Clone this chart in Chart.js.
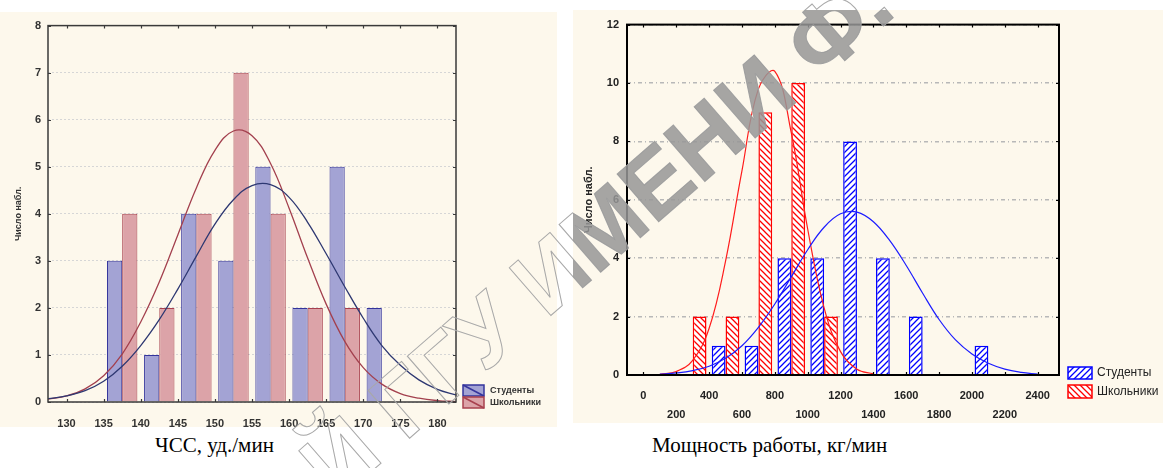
<!DOCTYPE html>
<html>
<head>
<meta charset="utf-8">
<script src="https://cdn.jsdelivr.net/npm/chart.js@4.4.1/dist/chart.umd.min.js"></script>
<style>
  body { margin: 0; width: 1163px; height: 468px; background: #fff; position: relative; overflow: hidden; font-family: "Liberation Sans", Arial, sans-serif; }
  .panel { position: absolute; background: #fdf8ec; }
  #p1 { left: 0; top: 12px; width: 557px; height: 415px; }
  #p2 { left: 573px; top: 10px; width: 590px; height: 413px; }
  .cap { position: absolute; top: 433px; font-family: "Liberation Serif", "Times New Roman", serif; font-size: 21px; color: #000; white-space: nowrap; }
  .wm { position: absolute; left: 345px; top: 421px; font: bold 92px "Liberation Sans", Arial, sans-serif; white-space: nowrap; transform: rotate(-41deg); transform-origin: 0 100%; line-height: 1; }
</style>
</head>
<body>
<div class="panel" id="p1"><canvas id="hrChart" width="557" height="415"></canvas></div>
<div class="panel" id="p2"><canvas id="powerChart" width="590" height="413"></canvas></div>
<div class="cap" style="left:155px">ЧСС, уд./мин</div>
<div class="cap" style="left:652px">Мощность работы, кг/мин</div>
<div class="wm" style="color:transparent;-webkit-text-stroke:1px #a8a8a8">Й ГГУ ИМЕНИ Ф.</div>
<div style="position:absolute;left:573px;top:10px;width:590px;height:413px;overflow:hidden">
  <div class="wm" style="left:-228px;top:411px;color:rgba(150,150,150,0.85)">Й ГГУ ИМЕНИ Ф.</div>
</div>
<script>
// ЧСС histogram (bins of 5 beats/min)
var hrBins = [137.5, 142.5, 147.5, 152.5, 157.5, 162.5, 167.5, 172.5];
var hrStudents = [3, 1, 4, 3, 5, 2, 5, 2];
var hrPupils = [4, 2, 4, 7, 4, 2, 2, 0];
var hrTicks = [130, 135, 140, 145, 150, 155, 160, 165, 170, 175, 180];
// fitted curves
var hrCurveX = [127.5, 130, 132.5, 135, 137.5, 140, 142.5, 145, 147.5, 150, 152.5, 155, 157.5, 160, 162.5, 165, 167.5, 170, 172.5, 175, 177.5, 180, 182.5];
var hrStudentsCurve = [0.07, 0.13, 0.24, 0.44, 0.76, 1.2, 1.75, 2.4, 3.1, 3.78, 4.3, 4.6, 4.62, 4.35, 3.82, 3.15, 2.45, 1.78, 1.2, 0.78, 0.47, 0.27, 0.15];
var hrPupilsCurve = [0.06, 0.13, 0.28, 0.56, 1.02, 1.7, 2.55, 3.55, 4.55, 5.35, 5.76, 5.66, 5.07, 4.12, 3.06, 2.08, 1.29, 0.73, 0.38, 0.18, 0.08, 0.03, 0.01];

// Мощность работы histogram (bins of 200 kg/min)
var powerBins = [300, 500, 700, 900, 1100, 1300, 1500, 1700, 1900, 2100];
var powerStudents = [0, 1, 1, 4, 4, 8, 4, 2, 0, 1];
var powerPupils = [2, 2, 9, 10, 2, 0, 0, 0, 0, 0];
var powerTicks = [0, 200, 400, 600, 800, 1000, 1200, 1400, 1600, 1800, 2000, 2200, 2400];
var powerStudentsX = [100, 200, 300, 400, 500, 600, 700, 800, 900, 1000, 1100, 1200, 1300, 1400, 1500, 1600, 1700, 1800, 1900, 2000, 2100, 2200, 2300, 2400];
var powerStudentsCurve = [0.03, 0.07, 0.15, 0.3, 0.57, 1.0, 1.63, 2.43, 3.36, 4.29, 5.06, 5.52, 5.58, 5.25, 4.6, 3.75, 2.8, 1.9, 1.2, 0.72, 0.4, 0.2, 0.09, 0.03];
var powerPupilsX = [100, 200, 300, 400, 500, 600, 700, 800, 900, 1000, 1100, 1200, 1300, 1400];
var powerPupilsCurve = [0.02, 0.12, 0.5, 1.6, 3.9, 7.0, 9.8, 10.4, 8.3, 5.0, 2.3, 0.8, 0.2, 0.04];

function pts(xs, ys) {
  return xs.map((x, i) => ({ x: x, y: ys[i] }));
}

function hatch(color, dir) {
  const c = document.createElement('canvas');
  c.width = 6; c.height = 6;
  const g = c.getContext('2d');
  g.fillStyle = '#fff';
  g.fillRect(0, 0, 6, 6);
  g.strokeStyle = color;
  g.lineWidth = 1.3;
  g.beginPath();
  if (dir > 0) {
    g.moveTo(0, 6); g.lineTo(6, 0);
    g.moveTo(-1, 1); g.lineTo(1, -1);
    g.moveTo(5, 7); g.lineTo(7, 5);
  } else {
    g.moveTo(0, 0); g.lineTo(6, 6);
    g.moveTo(-1, 5); g.lineTo(1, 7);
    g.moveTo(5, -1); g.lineTo(7, 1);
  }
  g.stroke();
  return g.createPattern(c, 'repeat');
}

// box around the plot, inner tick marks and the small legend in the corner
const framePlugin = {
  id: 'frame',
  afterDraw(chart, args, opts) {
    const { ctx, chartArea: a, scales: { x, y } } = chart;
    ctx.save();
    ctx.strokeStyle = opts.color;
    ctx.lineWidth = opts.width;
    ctx.strokeRect(a.left, a.top, a.right - a.left, a.bottom - a.top);
    ctx.lineWidth = 1.2;
    ctx.beginPath();
    x.ticks.forEach(t => {
      const px = Math.round(x.getPixelForValue(t.value)) + 0.5;
      ctx.moveTo(px, a.top); ctx.lineTo(px, a.top + 3);
      ctx.moveTo(px, a.bottom); ctx.lineTo(px, a.bottom - 3);
    });
    y.ticks.forEach(t => {
      const py = Math.round(y.getPixelForValue(t.value)) + 0.5;
      ctx.moveTo(a.left, py); ctx.lineTo(a.left + 3, py);
      ctx.moveTo(a.right, py); ctx.lineTo(a.right - 3, py);
    });
    ctx.stroke();

    const lg = opts.legend;
    const bars = chart.data.datasets.filter(d => d.type === 'bar');
    bars.forEach((d, i) => {
      const r = lg.rows[i];
      ctx.fillStyle = d.backgroundColor;
      ctx.fillRect(lg.x, r[0], lg.w, r[1]);
      ctx.strokeStyle = d.borderColor;
      ctx.lineWidth = 1.5;
      ctx.strokeRect(lg.x, r[0], lg.w, r[1]);
      if (lg.diag) {
        ctx.beginPath();
        ctx.moveTo(lg.x, r[0]); ctx.lineTo(lg.x + lg.w, r[0] + r[1]);
        ctx.stroke();
      }
      ctx.fillStyle = lg.textColor;
      ctx.font = lg.font;
      ctx.textBaseline = 'middle';
      ctx.textAlign = 'left';
      ctx.fillText(d.label, lg.textX, r[0] + r[1] / 2);
    });
    ctx.restore();
  }
};

Chart.defaults.font.family = '"Liberation Sans", Arial, sans-serif';

new Chart(document.getElementById('hrChart'), {
  type: 'bar',
  data: {
    datasets: [
      { type: 'line', label: 'Студенты (норм.)', data: pts(hrCurveX, hrStudentsCurve), borderColor: '#2e3872', borderWidth: 1.3, pointRadius: 0, tension: 0.4, order: 1 },
      { type: 'line', label: 'Школьники (норм.)', data: pts(hrCurveX, hrPupilsCurve), borderColor: '#a3404e', borderWidth: 1.3, pointRadius: 0, tension: 0.4, order: 1 },
      { type: 'bar', label: 'Студенты', data: pts(hrBins, hrStudents), backgroundColor: '#a3a3d4', borderColor: '#34349c', borderWidth: 1, categoryPercentage: 0.82, barPercentage: 1, order: 2 },
      { type: 'bar', label: 'Школьники', data: pts(hrBins, hrPupils), backgroundColor: '#dca3a8', borderColor: '#a8404e', borderWidth: 1, categoryPercentage: 0.82, barPercentage: 1, order: 2 }
    ]
  },
  options: {
    responsive: false,
    animation: false,
    devicePixelRatio: 1,
    layout: { padding: { top: 11, left: 0, right: 101, bottom: 0 } },
    scales: {
      x: {
        type: 'linear', min: 127.5, max: 182.5, offset: false,
        grid: { display: false, offset: false },
        border: { display: false },
        afterBuildTicks: s => { s.ticks = hrTicks.map(v => ({ value: v })); },
        afterFit: s => { s.height = 25; },
        ticks: { autoSkip: false, maxRotation: 0, padding: 7, color: '#333', font: { size: 11, weight: 'bold' } }
      },
      y: {
        min: 0, max: 8,
        grid: { color: '#d6d6d6', drawTicks: false },
        border: { display: false, dash: [2, 2] },
        afterFit: s => { s.width = 48; },
        ticks: { stepSize: 1, padding: 7, color: '#333', font: { size: 11, weight: 'bold' } },
        title: { display: true, text: 'Число набл.', color: '#333', font: { size: 9, weight: 'bold' }, padding: { top: 13, bottom: 0 } }
      }
    },
    plugins: {
      legend: { display: false },
      tooltip: { enabled: false },
      frame: {
        color: '#3a3a3a', width: 1.5,
        legend: { x: 463, w: 21, rows: [[373, 11], [385, 11]], textX: 490, font: 'bold 9px "Liberation Sans", Arial, sans-serif', textColor: '#333', diag: true }
      }
    }
  },
  plugins: [framePlugin]
});

new Chart(document.getElementById('powerChart'), {
  type: 'bar',
  data: {
    datasets: [
      { type: 'line', label: 'Студенты (норм.)', data: pts(powerStudentsX, powerStudentsCurve), borderColor: '#1c1cff', borderWidth: 1.2, pointRadius: 0, tension: 0.4, order: 1 },
      { type: 'line', label: 'Школьники (норм.)', data: pts(powerPupilsX, powerPupilsCurve), borderColor: '#ff1c1c', borderWidth: 1.2, pointRadius: 0, tension: 0.4, order: 1 },
      { type: 'bar', label: 'Студенты', data: pts(powerBins, powerStudents), backgroundColor: hatch('#0000ff', 1), borderColor: '#0000ff', borderWidth: 1.5, categoryPercentage: 0.84, barPercentage: 1, order: 2 },
      { type: 'bar', label: 'Школьники', data: pts(powerBins, powerPupils), backgroundColor: hatch('#ff0000', -1), borderColor: '#ff0000', borderWidth: 1.5, categoryPercentage: 0.84, barPercentage: 1, order: 2 }
    ]
  },
  options: {
    responsive: false,
    animation: false,
    devicePixelRatio: 1,
    layout: { padding: { top: 11, left: 0, right: 104, bottom: 0 } },
    scales: {
      x: {
        type: 'linear', min: -100, max: 2530, offset: false,
        grid: { display: false, offset: false },
        border: { display: false },
        afterBuildTicks: s => { s.ticks = powerTicks.map(v => ({ value: v })); },
        afterFit: s => { s.height = 48; },
        ticks: {
          autoSkip: false, maxRotation: 0, padding: 4, color: '#222',
          font: { size: 11, weight: 'bold', lineHeight: 1.7 },
          callback: (v, i) => (i % 2 === 0 ? [String(v), ''] : ['', String(v)])
        }
      },
      y: {
        min: 0, max: 12,
        grid: { color: '#b8b8b8', lineWidth: 1.5, drawTicks: false },
        border: { display: false, dash: [4, 3, 1, 3] },
        afterFit: s => { s.width = 54; },
        ticks: { stepSize: 2, padding: 8, color: '#222', font: { size: 11, weight: 'bold' } },
        title: { display: true, text: 'Число набл.', color: '#222', font: { size: 11, weight: 'bold' }, padding: { top: 9, bottom: 0 } }
      }
    },
    plugins: {
      legend: { display: false },
      tooltip: { enabled: false },
      frame: {
        color: '#000', width: 2,
        legend: { x: 495, w: 24, rows: [[357, 12], [375, 13]], textX: 524, font: '12px "Liberation Sans", Arial, sans-serif', textColor: '#222', diag: false }
      }
    }
  },
  plugins: [framePlugin]
});
</script>
</body>
</html>
